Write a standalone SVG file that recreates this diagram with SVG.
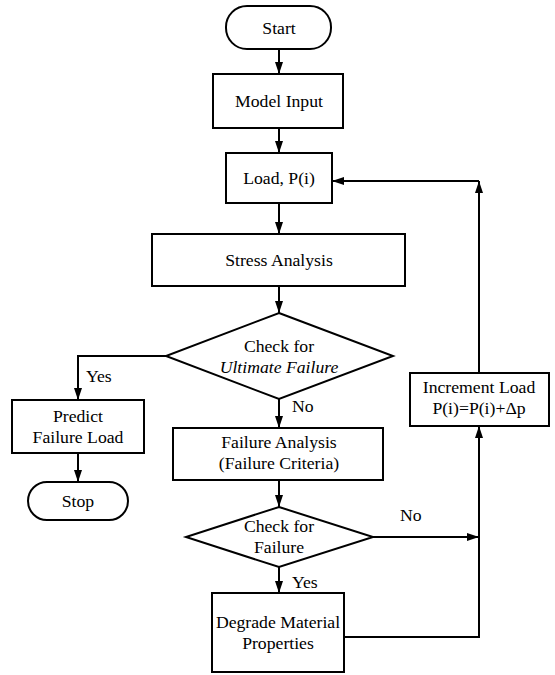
<svg xmlns="http://www.w3.org/2000/svg" width="555" height="675" viewBox="0 0 555 675" font-family="Liberation Serif, Times New Roman, serif" font-size="17.7">
<style>
.n{fill:#fff;stroke:#000;stroke-width:2}
.c{fill:none;stroke:#000;stroke-width:2}
text{fill:#000;text-anchor:middle}
.l{text-anchor:start}
</style>
<defs>
<marker id="a" viewBox="0 0 12 8" refX="12" refY="4" markerWidth="12" markerHeight="8" markerUnits="userSpaceOnUse" orient="auto">
<path d="M0,0L12,4L0,8z" fill="#000"/>
</marker>
</defs>
<rect width="555" height="675" fill="#fff"/>
<g id="connectors">
<path class="c" d="M279,49V74" marker-end="url(#a)"/>
<path class="c" d="M279,128V153" marker-end="url(#a)"/>
<path class="c" d="M279,203V234" marker-end="url(#a)"/>
<path class="c" d="M279,286V313" marker-end="url(#a)"/>
<path class="c" d="M167,356H78V400" marker-end="url(#a)"/>
<path class="c" d="M78,453V482" marker-end="url(#a)"/>
<path class="c" d="M279,399V428" marker-end="url(#a)"/>
<path class="c" d="M279,480V507" marker-end="url(#a)"/>
<path class="c" d="M279,567V593" marker-end="url(#a)"/>
<path class="c" d="M373,537H479" marker-end="url(#a)"/>
<path class="c" d="M344,637H479V426" marker-end="url(#a)"/>
<path class="c" d="M479,373V181" marker-end="url(#a)"/>
<path class="c" d="M479,181H332" marker-end="url(#a)"/>
<text class="l" x="86" y="382">Yes</text>
<text class="l" x="292" y="412">No</text>
<text class="l" x="292" y="588">Yes</text>
<text class="l" x="400" y="521">No</text>
</g>
<g id="start"><rect class="n" x="226" y="6" width="105" height="43" rx="21"/><text x="279" y="34">Start</text></g>
<g id="model-input"><rect class="n" x="213" y="74" width="130" height="54"/><text x="279" y="107">Model Input</text></g>
<g id="load"><rect class="n" x="226" y="153" width="106" height="50"/><text x="279" y="184">Load, P(i)</text></g>
<g id="stress-analysis"><rect class="n" x="152" y="234" width="253" height="52"/><text x="279" y="266">Stress Analysis</text></g>
<g id="check-ultimate"><path class="n" d="M279,313L393,356L279,399L166,356z"/><text x="279" y="352">Check for</text><text x="279" y="373" font-style="italic">Ultimate Failure</text></g>
<g id="predict"><rect class="n" x="12" y="400" width="132" height="53"/><text x="78" y="422">Predict</text><text x="78" y="443">Failure Load</text></g>
<g id="stop"><rect class="n" x="28" y="482" width="100" height="38" rx="19"/><text x="78" y="507">Stop</text></g>
<g id="failure-analysis"><rect class="n" x="173" y="428" width="210" height="52"/><text x="279" y="448">Failure Analysis</text><text x="279" y="469">(Failure Criteria)</text></g>
<g id="check-failure"><path class="n" d="M279,507L373,537L279,567L186,537z"/><text x="279" y="532">Check for</text><text x="279" y="553">Failure</text></g>
<g id="degrade"><rect class="n" x="212" y="593" width="132" height="79"/><text x="278" y="628">Degrade Material</text><text x="278" y="649">Properties</text></g>
<g id="increment"><rect class="n" x="410" y="373" width="139" height="53"/><text x="479" y="393">Increment Load</text><text x="479" y="414">P(i)=P(i)+Δp</text></g>
</svg>
